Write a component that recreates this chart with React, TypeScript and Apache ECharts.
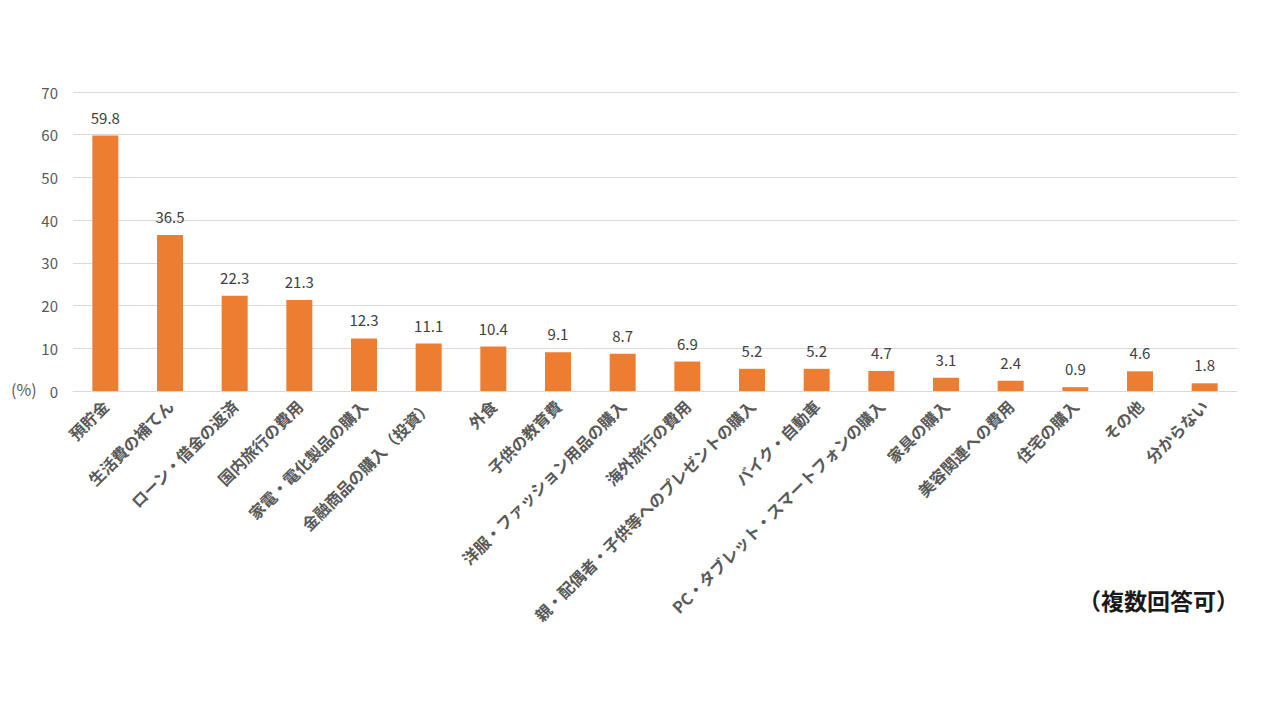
import React, { useEffect, useRef } from "react";
import * as echarts from "echarts";

const categories = [
  "預貯金",
  "生活費の補てん",
  "ローン・借金の返済",
  "国内旅行の費用",
  "家電・電化製品の購入",
  "金融商品の購入（投資）",
  "外食",
  "子供の教育費",
  "洋服・ファッション用品の購入",
  "海外旅行の費用",
  "親・配偶者・子供等へのプレゼントの購入",
  "バイク・自動車",
  "PC・タブレット・スマートフォンの購入",
  "家具の購入",
  "美容関連への費用",
  "住宅の購入",
  "その他",
  "分からない",
];
const values = [59.8, 36.5, 22.3, 21.3, 12.3, 11.1, 10.4, 9.1, 8.7, 6.9, 5.2, 5.2, 4.7, 3.1, 2.4, 0.9, 4.6, 1.8];

const FONT = "'Noto Sans CJK JP', 'Noto Sans', sans-serif";

export default function App() {
  const ref = useRef<HTMLDivElement>(null);
  useEffect(() => {
    if (!ref.current) return;
    const chart = echarts.init(ref.current, undefined, { renderer: "svg" });
    chart.setOption({
      animation: false,
      backgroundColor: "#ffffff",
      textStyle: { fontFamily: FONT },
      grid: { left: 73, right: 43, top: 92, bottom: 329, containLabel: false },
      xAxis: {
        type: "category",
        data: categories,
        axisLine: { show: true, lineStyle: { color: "#d9d9d9" } },
        axisTick: { show: false },
        axisLabel: {
          interval: 0,
          rotate: 45,
          color: "#595959",
          fontSize: 16,
          fontWeight: "bold",
          fontFamily: FONT,
          margin: 12,
        },
      },
      yAxis: {
        type: "value",
        min: 0,
        max: 70,
        interval: 10,
        axisLine: { show: false },
        axisTick: { show: false },
        splitLine: { lineStyle: { color: "#d9d9d9" } },
        axisLabel: { color: "#595959", fontSize: 15, fontFamily: FONT, margin: 15 },
      },
      series: [
        {
          type: "bar",
          data: values,
          barWidth: 26,
          itemStyle: { color: "#ED7D31" },
          label: {
            show: true,
            position: "top",
            distance: 11,
            color: "#404040",
            fontSize: 15,
            fontFamily: FONT,
            formatter: (p: any) => p.value.toFixed(1),
          },
        },
      ],
      graphic: [
        {
          type: "text",
          left: 11,
          top: 381,
          style: { text: "(%)", fill: "#595959", fontSize: 16, fontFamily: FONT },
        },
        {
          type: "text",
          left: 1078,
          top: 588,
          style: { text: "（複数回答可）", fill: "#1a1a1a", fontSize: 23, fontWeight: "bold", fontFamily: FONT },
        },
      ],
    });
    return () => chart.dispose();
  }, []);
  return <div ref={ref} style={{ position: "fixed", left: 0, top: 0, width: 1280, height: 720 }} />;
}
